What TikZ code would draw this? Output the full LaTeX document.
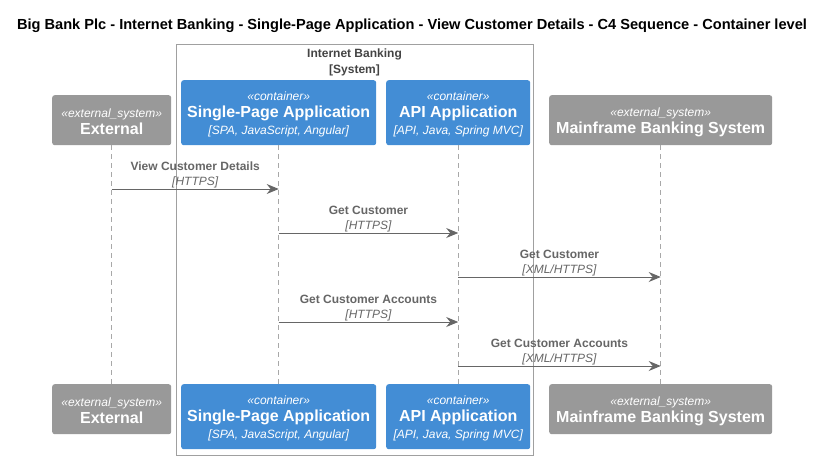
\documentclass[tikz,border=0pt]{standalone}
\usepackage{fontspec}
\setmainfont{Liberation Sans}
\usetikzlibrary{arrows.meta,positioning}
\definecolor{Ink}{HTML}{000000}
\definecolor{Muted}{HTML}{666666}
\definecolor{Frame}{HTML}{444444}
\definecolor{Blue}{HTML}{438DD5}
\definecolor{Grey}{HTML}{999999}
\definecolor{Life}{HTML}{A8A8A8}
\definecolor{Bound}{HTML}{A0A0A0}
\tikzset{
  box/.style={rounded corners=2.5pt,text=white,align=center,anchor=north west,inner sep=0pt,
    font=\fontsize{12}{17}\selectfont},
  container/.style={box,fill=Blue,minimum height=65pt},
  extsys/.style={box,fill=Grey,minimum height=50pt},
  life/.style={draw=Life,line width=0.8pt,dash pattern=on 5pt off 4pt},
  msg/.style={-{Stealth[length=12pt,width=10pt,inset=4pt]},draw=Muted,line width=0.9pt},
  msglabel/.style={above,inner sep=0pt,yshift=1pt,align=center,text=Muted,font=\fontsize{12}{15}\selectfont},
  bound/.style={draw=Bound,line width=0.8pt}
}
\newcommand{\stereo}[1]{\rule{0pt}{12.5pt}{\itshape\guillemotleft#1\guillemotright}}
\newcommand{\boxtitle}[1]{{\fontsize{16}{17}\selectfont\bfseries #1}}
\newcommand{\tech}[1]{{\itshape [#1]}}

\begin{document}
\begin{tikzpicture}[x=1pt,y=-1pt]
  \useasboundingbox (0,0) rectangle (825,460);
  \node[font=\fontsize{14.6}{16}\selectfont\bfseries] (title) at (412,26)
    {Big Bank Plc - Internet Banking - Single-Page Application - View Customer Details - C4 Sequence - Container level};

  % system boundary
  \draw[bound] (176,44) rectangle (533,455);
  \node[anchor=north,align=center,text=Frame,font=\fontsize{12}{16}\selectfont\bfseries,inner sep=0pt] (sys) at (354.5,49)
    {Internet Banking\\ {[System]}};

  % participants, top
  \node[extsys,minimum width=119pt] (ext) at (52,95) {\stereo{external\_system}\\ \boxtitle{External}};
  \node[container,minimum width=195pt] (spa) at (181,80) {\stereo{container}\\ \boxtitle{Single-Page Application}\\ \tech{SPA, JavaScript, Angular}};
  \node[container,minimum width=144pt] (api) at (386,80) {\stereo{container}\\ \boxtitle{API Application}\\ \tech{API, Java, Spring MVC}};
  \node[extsys,minimum width=223pt] (mf) at (549,95) {\stereo{external\_system}\\ \boxtitle{Mainframe Banking System}};

  % participants, bottom
  \node[extsys,minimum width=119pt] (extb) at (52,384) {\stereo{external\_system}\\ \boxtitle{External}};
  \node[container,minimum width=195pt] (spab) at (181,384) {\stereo{container}\\ \boxtitle{Single-Page Application}\\ \tech{SPA, JavaScript, Angular}};
  \node[container,minimum width=144pt] (apib) at (386,384) {\stereo{container}\\ \boxtitle{API Application}\\ \tech{API, Java, Spring MVC}};
  \node[extsys,minimum width=223pt] (mfb) at (549,384) {\stereo{external\_system}\\ \boxtitle{Mainframe Banking System}};

  % lifelines
  \draw[life] (ext.south) -- (extb.north);
  \draw[life] (spa.south) -- (spab.north);
  \draw[life] (api.south) -- (apib.north);
  \draw[life] (mf.south) -- (mfb.north);

  % messages
  \coordinate (y1) at (0,189);
  \coordinate (y2) at (0,233);
  \coordinate (y3) at (0,277);
  \coordinate (y4) at (0,322);
  \coordinate (y5) at (0,366);
  \draw[msg] (ext |- y1) -- (spa |- y1) node[msglabel,midway] {\textbf{View Customer Details}\\ \tech{HTTPS}};
  \draw[msg] (spa |- y2) -- (api |- y2) node[msglabel,midway] {\textbf{Get Customer}\\ \tech{HTTPS}};
  \draw[msg] (api |- y3) -- (mf |- y3) node[msglabel,midway] {\textbf{Get Customer}\\ \tech{XML/HTTPS}};
  \draw[msg] (spa |- y4) -- (api |- y4) node[msglabel,midway] {\textbf{Get Customer Accounts}\\ \tech{HTTPS}};
  \draw[msg] (api |- y5) -- (mf |- y5) node[msglabel,midway] {\textbf{Get Customer Accounts}\\ \tech{XML/HTTPS}};
\end{tikzpicture}
\end{document}
